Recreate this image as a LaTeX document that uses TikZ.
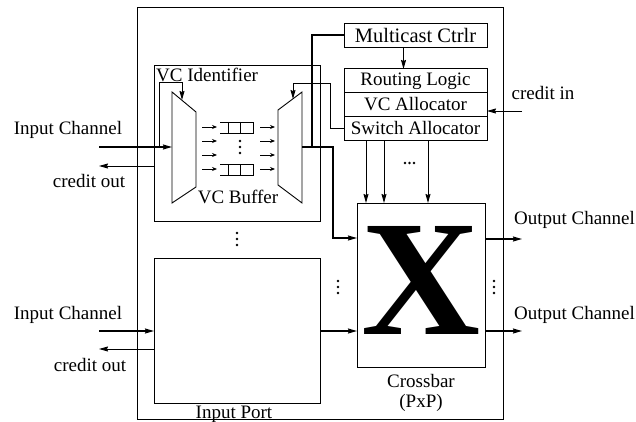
\documentclass[tikz,border=0pt]{standalone}
\usepackage{fontspec}
\setmainfont{Liberation Serif}
\usetikzlibrary{positioning,arrows.meta}

\begin{document}
\begin{tikzpicture}[x=1pt, y=-1pt, font=\fontsize{19}{20}\selectfont,
      >={Stealth[length=9pt, width=5pt, inset=1pt]},
      box/.style={draw, line width=0.9pt, inner sep=0pt, outer sep=0pt},
      alloc/.style={box, minimum width=143pt, minimum height=23.7pt},
      lbl/.style={inner sep=0pt},
      wire/.style={line width=0.9pt},
      bus/.style={line width=1.4pt},
      sarr/.style={wire, -{Stealth[length=5pt, width=4pt]}},
      vdots/.pic={\foreach \d in {-6,0,6} \fill (0,\d) circle (1.4);}]
    \useasboundingbox (0,0) rectangle (636,422);

    % router frame and blocks
    \node[box, minimum width=366pt, minimum height=412pt] (router) at (320,213) {};
    \node[box, minimum width=166pt, minimum height=156pt] (portA) at (237,143) {};
    \node[box, minimum width=166pt, minimum height=145pt] (portB) at (237,330.5) {};
    \node[box, minimum width=128pt, minimum height=164pt] (xbar) at (421,285) {};
    \node[lbl, font=\fontsize{165}{165}\selectfont\bfseries] (bigx) at ([yshift=5pt]xbar.center) {X};
    \node[alloc, minimum height=24pt, font=\fontsize{20.5}{21}\selectfont] (mcast) at (415.5,35) {Multicast Ctrlr};
    \node[alloc] (route) at (415.5,80.8) {Routing Logic};
    \node[alloc, below=0pt of route] (vcalloc) {VC Allocator};
    \node[alloc, below=0pt of vcalloc] (swalloc) {Switch Allocator};

    % labels
    \node[lbl, anchor=west] (vcid) at (156,75) {VC Identifier};
    \node[lbl] (vcbuf) at (238,197) {VC Buffer};
    \node[lbl, anchor=base] (ipname) at (234,418) {Input Port};
    \node[lbl, align=center] (xname) at (421,393) {Crossbar\\(PxP)};
    \node[lbl] (inA) at (68,130) {Input Channel};
    \node[lbl] (coA) at (89,181) {credit out};
    \node[lbl] (inB) at (68,315) {Input Channel};
    \node[lbl] (coB) at (90,365) {credit out};
    \node[lbl] (crin) at (543,93) {credit in};
    \node[lbl] (outA) at (574.5,220) {Output Channel};
    \node[lbl] (outB) at (574.5,315) {Output Channel};

    % demux / mux of the VC buffer
    \draw[wire] (172,92) -- (196,112) -- (196,187) -- (172,203) -- cycle;
    \draw[wire] (302,92) -- (278,110) -- (278,185) -- (302,203) -- cycle;
    \coordinate (demuxIn) at (172,147);
    \coordinate (demuxSel) at (182,100);
    \coordinate (muxSel) at (293,99);
    \coordinate (muxOut) at (302,147);

    % virtual channel queues
    \foreach \y in {127,141,155,169} {
      \draw[sarr] (202,\y) -- (217,\y);
      \draw[sarr] (260,\y) -- (275,\y);
    }
    \foreach \y in {122,164} {
      \draw[wire] (220,\y) -- (253,\y) -- (253,\y+11) -- (220,\y+11);
      \draw[wire] (228,\y) -- (228,\y+11) (240,\y) -- (240,\y+11);
    }
    \pic at (240,147) {vdots};
    \pic at (237,239) {vdots};
    \pic at (338,287) {vdots};
    \pic at (494,287) {vdots};
    \foreach \x in {405,409.5,414} \fill (\x,163) circle (1.3);

    % input side
    \coordinate (srcA) at (99,147);
    \coordinate (sinkA) at (99,166);
    \coordinate (tapA) at (159,147);
    \coordinate (srcB) at (99,331);
    \coordinate (sinkB) at (99,349);
    \draw[bus,->] (srcA) -- (demuxIn);
    \draw[wire,->] (portA.west |- sinkA) -- (sinkA);
    \draw[wire,->] (tapA) |- (demuxSel |- 0,82) -- (demuxSel);
    \draw[bus,->] (srcB) -- (portB.west |- srcB);
    \draw[wire,->] (portB.west |- sinkB) -- (sinkB);

    % control
    \draw[wire,->] ([xshift=-12pt]mcast.south) -- ([xshift=-12pt]route.north);
    \draw[wire,->] (swalloc.west) -| (330,83) -| (muxSel);
    \draw[bus] (mcast.west) -| (312,147);
    \coordinate (creditSrc) at (522,111);
    \draw[wire,->] (creditSrc) -- (vcalloc.east |- creditSrc);
    \foreach \x in {366,384,428}
      \draw[wire,->] (swalloc.south -| \x,0) -- (xbar.north -| \x,0);

    % datapath into and out of the crossbar
    \draw[bus,->] (muxOut) -| (333,238) -- (xbar.west |- 0,238);
    \draw[bus,->] (portB.east |- srcB) -- (xbar.west |- srcB);
    \coordinate (dstA) at (522,239);
    \coordinate (dstB) at (522,331);
    \draw[bus,->] (xbar.east |- dstA) -- (dstA);
    \draw[bus,->] (xbar.east |- dstB) -- (dstB);
  \end{tikzpicture}
\end{document}
